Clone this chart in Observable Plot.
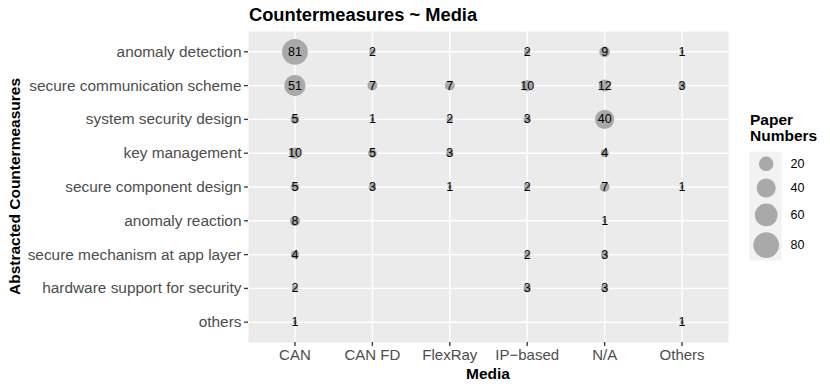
<!DOCTYPE html>
<html><head><meta charset="utf-8">
<script src="https://cdn.jsdelivr.net/npm/d3@7"></script>
<script src="https://cdn.jsdelivr.net/npm/@observablehq/plot@0.6"></script>
<style>
body{margin:0;background:#fff;}
#wrap{position:relative;width:830px;height:389px;font-family:"Liberation Sans",Arial,Helvetica,sans-serif;}
#wrap > svg{position:absolute;}
</style></head><body><div id="wrap"></div>
<script>
const media = ["CAN", "CAN FD", "FlexRay", "IP\u2212based", "N/A", "Others"];
const countermeasures = [
  "anomaly detection",
  "secure communication scheme",
  "system security design",
  "key management",
  "secure component design",
  "anomaly reaction",
  "secure mechanism at app layer",
  "hardware support for security",
  "others"
];
// rows follow countermeasures, columns follow media (null = no papers)
const paperCounts = [
  [81, 2, null, 2, 9, 1],
  [51, 7, 7, 10, 12, 3],
  [5, 1, 2, 3, 40, null],
  [10, 5, 3, null, 4, null],
  [5, 3, 1, 2, 7, 1],
  [8, null, null, null, 1, null],
  [4, null, null, 2, 3, null],
  [2, null, null, 3, 3, null],
  [1, null, null, null, null, 1]
];
const legendBreaks = [20, 40, 60, 80];
const chartTitle = "Countermeasures ~ Media";
const xTitle = "Media";
const yTitle = "Abstracted Countermeasures";
const legendTitle = ["Paper", "Numbers"];

const FONT = '"Liberation Sans", Arial, Helvetica, sans-serif';
const data = [];
countermeasures.forEach((cm, i) => media.forEach((m, j) => {
  const n = paperCounts[i][j];
  if (n != null) data.push({cm, media: m, n});
}));
const minV = d3.min(data, d => d.n), maxV = d3.max(data, d => d.n);
const rOpts = {type: "linear", domain: [0, Math.sqrt(maxV - minV)], range: [1.9, 12.9]};
const sizeOf = v => Math.sqrt(v - minV);
const DOT = "#a9a9a9";

const wrap = document.getElementById("wrap");

const chart = Plot.plot({
  width: 830, height: 389,
  marginLeft: 248, marginRight: 102, marginTop: 31, marginBottom: 47,
  style: {fontFamily: FONT, background: "transparent", overflow: "visible"},
  x: {type: "point", domain: media, padding: 0.6, round: false},
  y: {type: "point", domain: countermeasures, padding: 0.6, round: false},
  r: rOpts,
  marks: [
    Plot.frame({fill: "#ebebeb", stroke: null}),
    Plot.gridX({stroke: "#fff", strokeOpacity: 1, strokeWidth: 1.4}),
    Plot.gridY({stroke: "#fff", strokeOpacity: 1, strokeWidth: 1.4}),
    Plot.axisX({tickSize: 4, tickPadding: 3, fontSize: 15, fill: "#4d4d4d", stroke: "#333", strokeWidth: 1.3, label: null}),
    Plot.axisY({tickSize: 4, tickPadding: 3, fontSize: 15.4, fill: "#4d4d4d", stroke: "#333", strokeWidth: 1.3, label: null}),
    Plot.dot(data, {x: "media", y: "cm", r: d => sizeOf(d.n), fill: DOT, stroke: null}),
    Plot.text(data, {x: "media", y: "cm", text: d => String(d.n), fontSize: 12.5, fontWeight: "normal", fill: "#000"})
  ]
});
chart.style.left = "0px"; chart.style.top = "0px";
wrap.appendChild(chart);

// legend: key heights follow the radius scale
const rScale = chart.scale("r");
const keyTop = 1.7, keyX1 = 9.3, keyX2 = 41.7, keyCx = 25.7, labelX = 50;
const keys = [];
let yy = keyTop;
for (const v of legendBreaks) {
  const rad = rScale.apply(sizeOf(v));
  const h = Math.max(23.2, 2 * rad + 6);
  keys.push({v, y1: yy, y2: yy + h, yc: yy + h / 2});
  yy += h;
}
const legend = Plot.plot({
  width: 90, height: 115, margin: 0,
  style: {fontFamily: FONT, background: "transparent", overflow: "visible"},
  x: {type: "identity", axis: null}, y: {type: "identity", axis: null},
  r: rOpts,
  marks: [
    Plot.rect(keys, {x1: keyX1, x2: keyX2, y1: "y1", y2: "y2", fill: "#f2f2f2"}),
    Plot.dot(keys, {x: keyCx, y: "yc", r: d => sizeOf(d.v), fill: DOT, stroke: null}),
    Plot.text(keys, {x: labelX, y: "yc", text: d => String(d.v), textAnchor: "start", fontSize: 12.5, fill: "#000"})
  ]
});
legend.style.left = "740px"; legend.style.top = "150px";
wrap.appendChild(legend);

// titles
const ov = d3.select(wrap).append("svg")
  .attr("width", 830).attr("height", 389)
  .style("left", "0px").style("top", "0px")
  .style("pointer-events", "none")
  .attr("font-family", FONT).attr("font-weight", "bold").attr("fill", "#000");
ov.append("text").attr("x", 249).attr("y", 21).attr("font-size", 18.3).text(chartTitle);
ov.append("text").attr("x", 488).attr("y", 378.5).attr("font-size", 15.5).attr("text-anchor", "middle").text(xTitle);
ov.append("text").attr("transform", "translate(20,186.5) rotate(-90)").attr("font-size", 15.5).attr("text-anchor", "middle").text(yTitle);
legendTitle.forEach((t, i) => ov.append("text").attr("x", 750).attr("y", 125 + i * 15.7).attr("font-size", 15.5).text(t));
</script>
</body></html>
